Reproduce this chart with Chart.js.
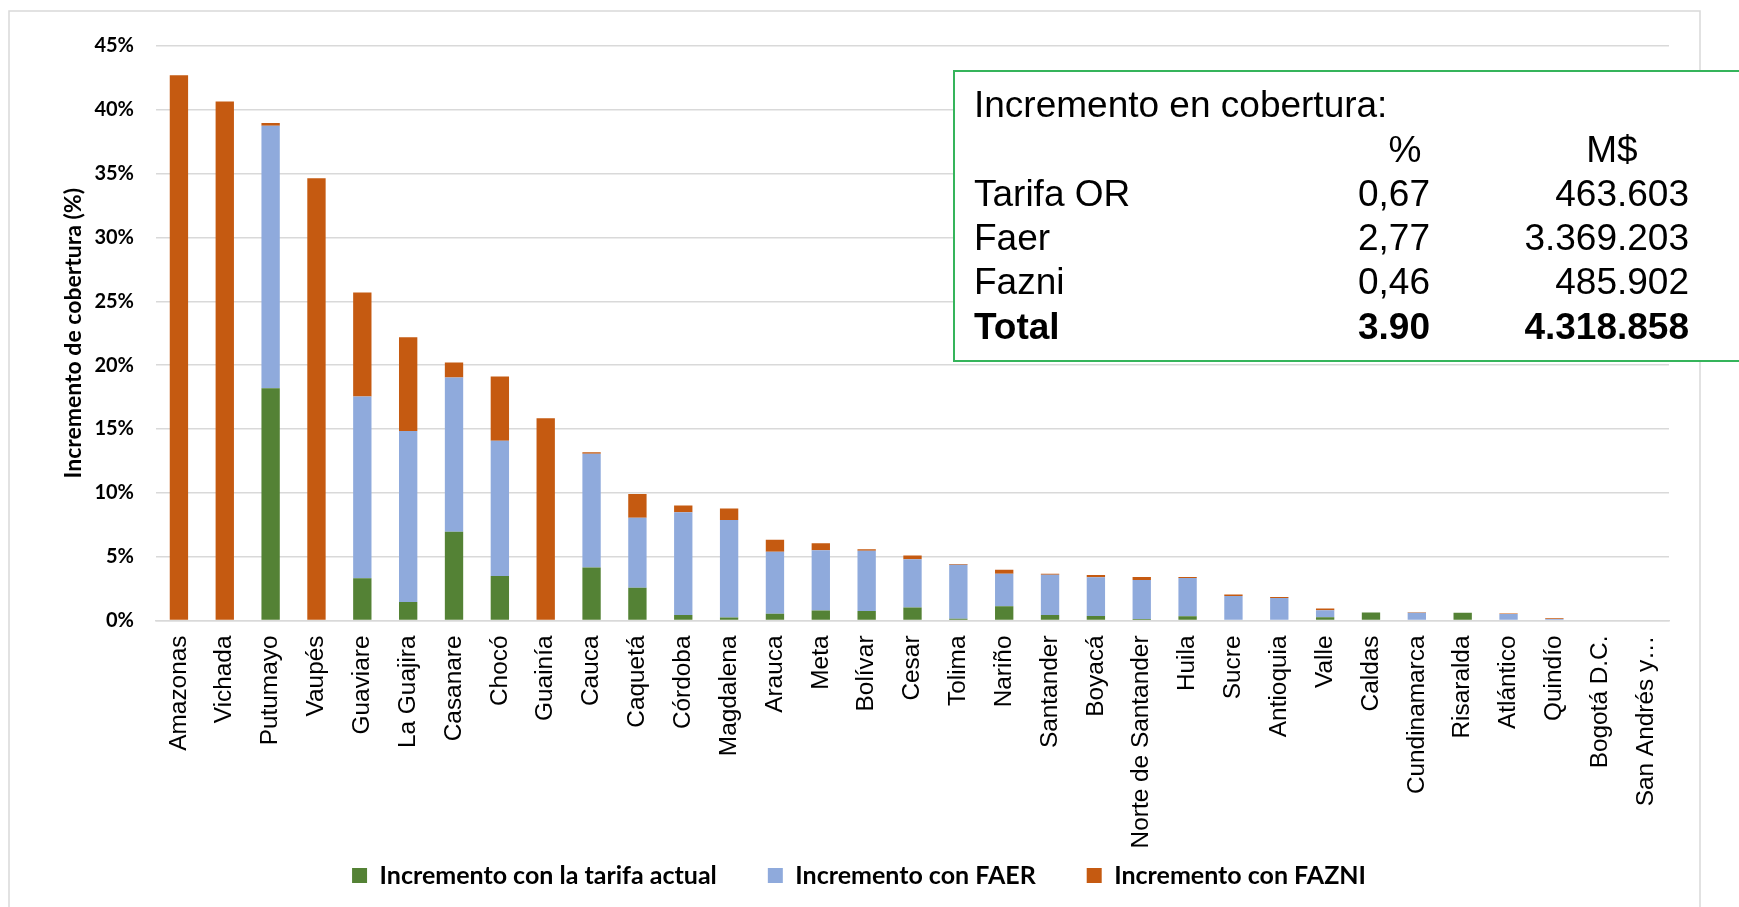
<!DOCTYPE html>
<html>
<head>
<meta charset="utf-8">
<script src="https://cdn.jsdelivr.net/npm/chart.js@4/dist/chart.umd.min.js"></script>
<style>
  html, body { margin: 0; padding: 0; background: #ffffff; }
  #wrap { width: 1739px; height: 907px; position: relative; }
</style>
</head>
<body>
<div id="wrap"><canvas id="chart" width="1739" height="907"></canvas></div>
<script>
// Departamentos, ordered by total coverage increase
const categories = ['Amazonas', 'Vichada', 'Putumayo', 'Vaupés', 'Guaviare', 'La Guajira', 'Casanare', 'Chocó',
  'Guainía', 'Cauca', 'Caquetá', 'Córdoba', 'Magdalena', 'Arauca', 'Meta', 'Bolívar', 'Cesar', 'Tolima',
  'Nariño', 'Santander', 'Boyacá', 'Norte de Santander', 'Huila', 'Sucre', 'Antioquia', 'Valle', 'Caldas',
  'Cundinamarca', 'Risaralda', 'Atlántico', 'Quindío', 'Bogotá D.C.', 'San Andrés y…'];

// Coverage increase (%) by source
const tarifaActual = [0, 0, 18.2, 0, 3.3, 1.44, 6.96, 3.48, 0, 4.15, 2.56, 0.44, 0.24, 0.52, 0.79, 0.75, 1.02, 0.13,
  1.12, 0.44, 0.36, 0.12, 0.34, 0, 0, 0.26, 0.62, 0, 0.6, 0, 0, 0, 0];
const faer = [0, 0, 20.55, 0, 14.24, 13.41, 12.07, 10.6, 0, 8.92, 5.48, 8.04, 7.64, 4.87, 4.71, 4.72, 3.77, 4.24,
  2.54, 3.14, 3.02, 3.06, 2.98, 1.91, 1.77, 0.55, 0, 0.6, 0, 0.5, 0.12, 0, 0];
const fazni = [42.7, 40.65, 0.22, 34.65, 8.15, 7.33, 1.18, 5.03, 15.84, 0.1, 1.86, 0.52, 0.89, 0.94, 0.55, 0.11, 0.31, 0.05,
  0.32, 0.08, 0.18, 0.22, 0.08, 0.13, 0.08, 0.13, 0, 0.05, 0, 0.05, 0.05, 0, 0];

const seriesNames = ['Incremento con la tarifa actual', 'Incremento con FAER', 'Incremento con FAZNI'];

// Y axis ticks (percent)
const yTicks = [0, 5, 10, 15, 20, 25, 30, 35, 40, 45];

// Summary table shown in the callout box
const boxTitle = 'Incremento en cobertura:';
const boxHeaders = ['%', 'M$'];
const boxRowNames = ['Tarifa OR', 'Faer', 'Fazni', 'Total'];
const boxPct = ['0,67', '2,77', '0,46', '3.90'];
const boxMoney = ['463.603', '3.369.203', '485.902', '4.318.858'];

const GREEN = '#548235';
const BLUE = '#8faadc';
const ORANGE = '#c55a11';
const GRID = '#d9d9d9';
const BOLD_FONT = 'Lato, "Open Sans", sans-serif';
const ARIAL = '"Liberation Sans", Arial, sans-serif';

// White page with the light chart frame
const framePlugin = {
  id: 'frame',
  beforeDraw(chart) {
    const ctx = chart.ctx;
    ctx.save();
    ctx.fillStyle = '#ffffff';
    ctx.fillRect(0, 0, chart.width, chart.height);
    ctx.strokeStyle = GRID;
    ctx.lineWidth = 1.5;
    ctx.strokeRect(9, 11, 1691, 1000);
    ctx.restore();
  }
};

// Callout box with the summary table
const calloutPlugin = {
  id: 'callout',
  afterDraw(chart) {
    const ctx = chart.ctx;
    const x0 = 954, y0 = 71, x1 = 1760, y1 = 361;
    ctx.save();
    ctx.fillStyle = '#ffffff';
    ctx.fillRect(x0, y0, x1 - x0, y1 - y0);
    ctx.strokeStyle = '#35b45b';
    ctx.lineWidth = 2;
    ctx.strokeRect(x0, y0, x1 - x0, y1 - y0);

    const left = 974, pctRight = 1430, moneyRight = 1689;
    const rowY = (i) => 107 + 44.3 * i;
    ctx.fillStyle = '#000000';
    ctx.textBaseline = 'middle';
    ctx.font = '37px ' + ARIAL;
    ctx.textAlign = 'left';
    ctx.fillText(boxTitle, left, rowY(0));
    ctx.textAlign = 'center';
    ctx.fillText(boxHeaders[0], 1405, rowY(1));
    ctx.fillText(boxHeaders[1], 1612, rowY(1));
    boxRowNames.forEach((name, i) => {
      const bold = i === boxRowNames.length - 1;
      ctx.font = (bold ? 'bold ' : '') + '37px ' + ARIAL;
      const y = rowY(i + 2);
      ctx.textAlign = 'left';
      ctx.fillText(name, left, y);
      ctx.textAlign = 'right';
      ctx.fillText(boxPct[i], pctRight, y);
      ctx.fillText(boxMoney[i], moneyRight, y);
    });
    ctx.restore();
  }
};

const commonBar = {
  stack: 's',
  barPercentage: 0.4,
  categoryPercentage: 1.0,
  borderWidth: 0
};

new Chart(document.getElementById('chart'), {
  type: 'bar',
  data: {
    labels: categories,
    datasets: [
      Object.assign({ label: seriesNames[0], data: tarifaActual, backgroundColor: GREEN }, commonBar),
      Object.assign({ label: seriesNames[1], data: faer, backgroundColor: BLUE }, commonBar),
      Object.assign({ label: seriesNames[2], data: fazni, backgroundColor: ORANGE }, commonBar)
    ]
  },
  options: {
    responsive: false,
    animation: false,
    devicePixelRatio: 1,
    layout: { padding: { left: 49, right: 70, top: 46, bottom: 9 } },
    plugins: {
      legend: {
        position: 'bottom',
        labels: {
          color: '#000000',
          font: { family: BOLD_FONT, size: 25, weight: 'bold' },
          boxWidth: 15,
          boxHeight: 15,
          padding: 51
        }
      },
      tooltip: { enabled: false }
    },
    scales: {
      x: {
        stacked: true,
        grid: { display: false, drawTicks: false },
        border: { display: true, color: GRID, width: 1.5 },
        ticks: {
          autoSkip: false,
          minRotation: 90,
          maxRotation: 90,
          padding: 15,
          color: '#000000',
          font: { family: ARIAL, size: 24.4 }
        },
        afterFit(scale) {
          scale.height = 191.5;
          // let the long rotated names run past the axis box
          scale._computeLabelArea = () => undefined;
        }
      },
      y: {
        stacked: true,
        min: 0,
        max: 45,
        afterBuildTicks(scale) { scale.ticks = yTicks.map(v => ({ value: v })); },
        grid: { color: GRID, lineWidth: 1.5, drawTicks: false },
        border: { display: false },
        ticks: {
          padding: 22,
          color: '#000000',
          font: { family: BOLD_FONT, size: 20, weight: 'bold' },
          callback: (v) => v + '%'
        },
        title: {
          display: true,
          text: 'Incremento de cobertura (%)',
          color: '#000000',
          font: { family: BOLD_FONT, size: 23, weight: 'bold' },
          padding: { top: 11, bottom: 0 }
        },
        afterFit(scale) { scale.width = 107; }
      }
    }
  },
  plugins: [framePlugin, calloutPlugin]
});
</script>
</body>
</html>
